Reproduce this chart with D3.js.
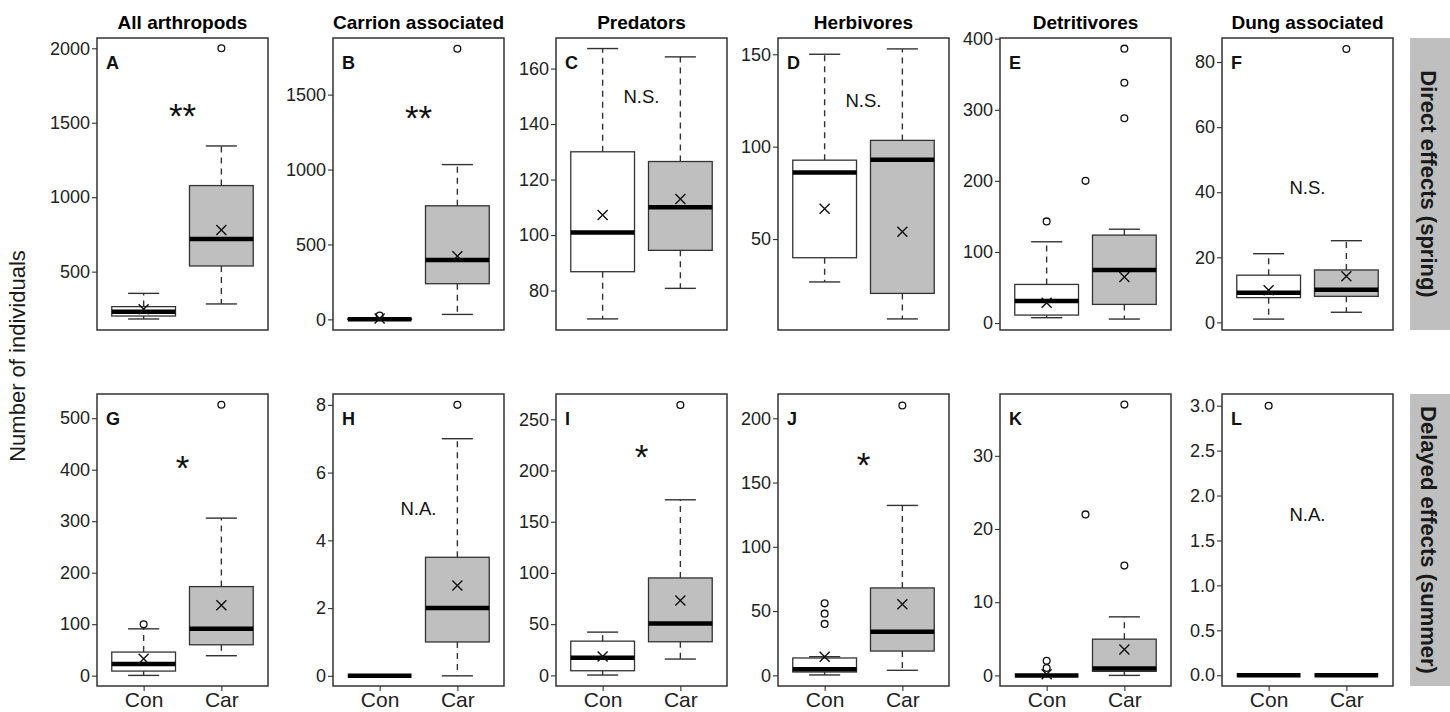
<!DOCTYPE html>
<html>
<head>
<meta charset="utf-8">
<script src="https://cdn.jsdelivr.net/npm/d3@7"></script>
<style>
  body { margin: 0; background: #fff; }
  svg { display: block; font-family: "Liberation Sans", Arial, Helvetica, sans-serif; }
</style>
</head>
<body>
<div id="chart"></div>
<script>
// ---- data ----
const letters = ["A", "B", "C", "D", "E", "F", "G", "H", "I", "J", "K", "L"];
const titles = ["All arthropods", "Carrion associated", "Predators", "Herbivores", "Detritivores", "Dung associated"];
const rowLabels = ["Direct effects (spring)", "Delayed effects (summer)"];
const groups = ["Con", "Car"];

// [lower whisker, q1, median, q3, upper whisker]
const conStats = [
    [182, 202, 231, 265, 354],
    [0, 0, 0, 3, 7],
    [69.8, 86.8, 100.9, 130, 167.2],
    [26.8, 39.9, 86, 92.7, 150],
    [7.5, 11.2, 30.9, 54.3, 114.3],
    [1, 7.6, 9.1, 14.5, 21.1],
    [0.6, 9, 22.6, 45.9, 91],
    [0, 0, 0, 0, 0],
    [0.3, 4.5, 17.2, 33.4, 42.2],
    [0.3, 2.6, 4.7, 13.5, 14.5],
    [0, 0, 0, 0, 0],
    [0, 0, 0, 0, 0]
];
const carStats = [
    [283, 538, 719, 1078, 1344],
    [33, 238, 396, 758, 1033],
    [80.8, 94.5, 110, 126.5, 164.2],
    [6.8, 20.6, 92.9, 103.4, 152.9],
    [5.6, 26.2, 74.5, 123.7, 132],
    [3.1, 8, 10, 16.1, 25.1],
    [38.8, 60, 91, 173, 306],
    [0, 1, 2, 3.5, 7],
    [15.9, 32.8, 50.6, 95.1, 171.4],
    [3.9, 18.9, 33.9, 68, 132.2],
    [0, 0.55, 0.95, 4.95, 8],
    [0, 0, 0, 0, 0]
];
// null where the mean marker is hidden under the median bar
const conMeans = [247, 6, 107.2, 66.4, 28.6, 9.9, 32.9, null, 18.5, 14.5, 0.15, null];
const carMeans = [780, 422, 113, 54, 64.6, 14.2, 137, 2.67, 73, 55.4, 3.55, null];
const conOutliers = [[], [25], [], [], [143], [], [100], [], [], [40, 48, 56], [1, 2], [3]];
const carOutliers = [[2000], [1806], [], [], [288, 338, 386], [84], [526], [8], [264], [210], [15, 37], []];
const midOutliers = [[], [], [], [], [200], [], [], [], [], [], [22], []];

const yDomains = [
    [108, 2069], [-71, 1878], [65.8, 171], [0.8, 158.8], [-9.8, 401], [-2.35, 87.4],
    [-20, 547], [-0.3, 8.32], [-10.4, 274.7], [-8.3, 218.9], [-1.45, 38.45], [-0.12, 3.13]
];
const yTicks = [
    [500, 1000, 1500, 2000], [0, 500, 1000, 1500], [80, 100, 120, 140, 160], [50, 100, 150],
    [0, 100, 200, 300, 400], [0, 20, 40, 60, 80],
    [0, 100, 200, 300, 400, 500], [0, 2, 4, 6, 8], [0, 50, 100, 150, 200, 250],
    [0, 50, 100, 150, 200], [0, 10, 20, 30], [0, 0.5, 1.0, 1.5, 2.0, 2.5, 3.0]
];
const sigLabels = ["**", "**", "N.S.", "N.S.", "", "N.S.", "*", "N.A.", "*", "*", "", "N.A."];
const sigY = [1600, 1400, 150, 125, null, 41.6, 419, 4.95, 220.8, 169.7, null, 1.79];

// ---- layout ----
const width = 1450, height = 712;
const panelLefts = [97, 333, 556, 778, 1000, 1222];
const rowTops = [38, 394];
const panelW = 171, panelH = 292;
const ink = "#222";
const fills = { Con: "#ffffff", Car: "#bfbfbf" };

const svg = d3.select("#chart").append("svg")
    .attr("width", width)
    .attr("height", height);

const x = d3.scalePoint().domain(groups).range([0, panelW]).padding(0.6);
const step = x.step();
const boxW = step * 0.82;
const capW = step * 0.4;

letters.forEach((letter, i) => {
    const col = i % 6, row = Math.floor(i / 6);
    const g = svg.append("g")
        .attr("transform", `translate(${panelLefts[col]},${rowTops[row]})`);

    const y = d3.scaleLinear().domain(yDomains[i]).range([panelH, 0]);

    // y axis
    const fmt = i === 11 ? d3.format(".1f") : d3.format("d");
    const yAxis = g.append("g")
        .call(d3.axisLeft(y).tickValues(yTicks[i]).tickSize(5).tickPadding(2).tickFormat(fmt));
    yAxis.select(".domain").remove();
    yAxis.selectAll("line").attr("stroke", "#333").attr("stroke-width", 1.1);
    yAxis.selectAll("text")
        .attr("fill", ink)
        .style("font-size", "18px");

    if (row === 1) {
        const xAxis = g.append("g")
            .attr("transform", `translate(0,${panelH})`)
            .call(d3.axisBottom(x).tickSize(5).tickPadding(1));
        xAxis.select(".domain").remove();
        xAxis.selectAll("line").attr("stroke", "#333").attr("stroke-width", 1.1);
        xAxis.selectAll("text")
            .attr("fill", ink)
            .style("font-size", "21px");
    }

    const series = [
        { key: "Con", stats: conStats[i], mean: conMeans[i], out: conOutliers[i] },
        { key: "Car", stats: carStats[i], mean: carMeans[i], out: carOutliers[i] }
    ];

    series.forEach(s => {
        const cx = x(s.key);
        const [lw, q1, med, q3, uw] = s.stats;
        const bg = g.append("g");

        // whiskers (dashed) and caps
        bg.append("line")
            .attr("x1", cx).attr("x2", cx)
            .attr("y1", y(q3)).attr("y2", y(uw))
            .attr("stroke", "#333").attr("stroke-width", 1.4)
            .attr("stroke-dasharray", "6,5");
        bg.append("line")
            .attr("x1", cx).attr("x2", cx)
            .attr("y1", y(q1)).attr("y2", y(lw))
            .attr("stroke", "#333").attr("stroke-width", 1.4)
            .attr("stroke-dasharray", "6,5");
        [uw, lw].forEach(v => {
            bg.append("line")
                .attr("x1", cx - capW / 2).attr("x2", cx + capW / 2)
                .attr("y1", y(v)).attr("y2", y(v))
                .attr("stroke", "#333").attr("stroke-width", 1.4);
        });

        // box
        bg.append("rect")
            .attr("x", cx - boxW / 2)
            .attr("y", y(q3))
            .attr("width", boxW)
            .attr("height", Math.max(0, y(q1) - y(q3)))
            .attr("fill", fills[s.key])
            .attr("stroke", "#333")
            .attr("stroke-width", 1.3);

        // median
        bg.append("line")
            .attr("x1", cx - boxW / 2).attr("x2", cx + boxW / 2)
            .attr("y1", y(med)).attr("y2", y(med))
            .attr("stroke", "#000").attr("stroke-width", 4.5);

        // mean
        if (s.mean !== null) {
            const my = y(s.mean), r = 5;
            bg.append("path")
                .attr("d", `M${cx - r},${my - r}L${cx + r},${my + r}M${cx - r},${my + r}L${cx + r},${my - r}`)
                .attr("stroke", "#111").attr("stroke-width", 1.4).attr("fill", "none");
        }

        // outliers
        bg.selectAll("circle.out")
            .data(s.out)
            .enter().append("circle")
            .attr("class", "out")
            .attr("cx", cx)
            .attr("cy", d => y(d))
            .attr("r", 3.4)
            .attr("fill", "none")
            .attr("stroke", "#111")
            .attr("stroke-width", 1.3);
    });

    // points drawn between the two groups
    const midX = (x("Con") + x("Car")) / 2;
    g.selectAll("circle.mid")
        .data(midOutliers[i])
        .enter().append("circle")
        .attr("class", "mid")
        .attr("cx", midX)
        .attr("cy", d => y(d))
        .attr("r", 3.4)
        .attr("fill", "none")
        .attr("stroke", "#111")
        .attr("stroke-width", 1.3);

    // significance label
    if (sigLabels[i]) {
        const stars = sigLabels[i].startsWith("*");
        g.append("text")
            .attr("x", panelW / 2)
            .attr("y", y(sigY[i]))
            .attr("dy", stars ? "0.57em" : "0.36em")
            .attr("text-anchor", "middle")
            .attr("fill", "#111")
            .style("font-size", stars ? "35px" : "18.5px")
            .text(sigLabels[i]);
    }

    // panel letter
    g.append("text")
        .attr("x", 9)
        .attr("y", 25)
        .attr("dy", "0.36em")
        .attr("fill", "#111")
        .style("font-size", "18px")
        .style("font-weight", "bold")
        .text(letter);

    // panel border
    g.append("rect")
        .attr("width", panelW)
        .attr("height", panelH)
        .attr("fill", "none")
        .attr("stroke", "#333")
        .attr("stroke-width", 1.5);

    if (row === 0) {
        g.append("text")
            .attr("x", panelW / 2)
            .attr("y", -9.5)
            .attr("text-anchor", "middle")
            .attr("fill", "#000")
            .style("font-size", "19px")
            .style("font-weight", "bold")
            .text(titles[col]);
    }
});

// row strips on the right
rowLabels.forEach((label, r) => {
    svg.append("rect")
        .attr("x", 1410)
        .attr("y", rowTops[r])
        .attr("width", 40)
        .attr("height", panelH)
        .attr("fill", "#bfbfbf");
    svg.append("text")
        .attr("transform", `translate(1421,${rowTops[r] + panelH / 2}) rotate(90)`)
        .attr("text-anchor", "middle")
        .attr("fill", "#1a1a1a")
        .style("font-size", "22px")
        .style("font-weight", "bold")
        .text(label);
});

// shared y title
svg.append("text")
    .attr("transform", "translate(25,356) rotate(-90)")
    .attr("text-anchor", "middle")
    .attr("fill", "#1a1a1a")
    .style("font-size", "22px")
    .text("Number of individuals");
</script>
</body>
</html>
